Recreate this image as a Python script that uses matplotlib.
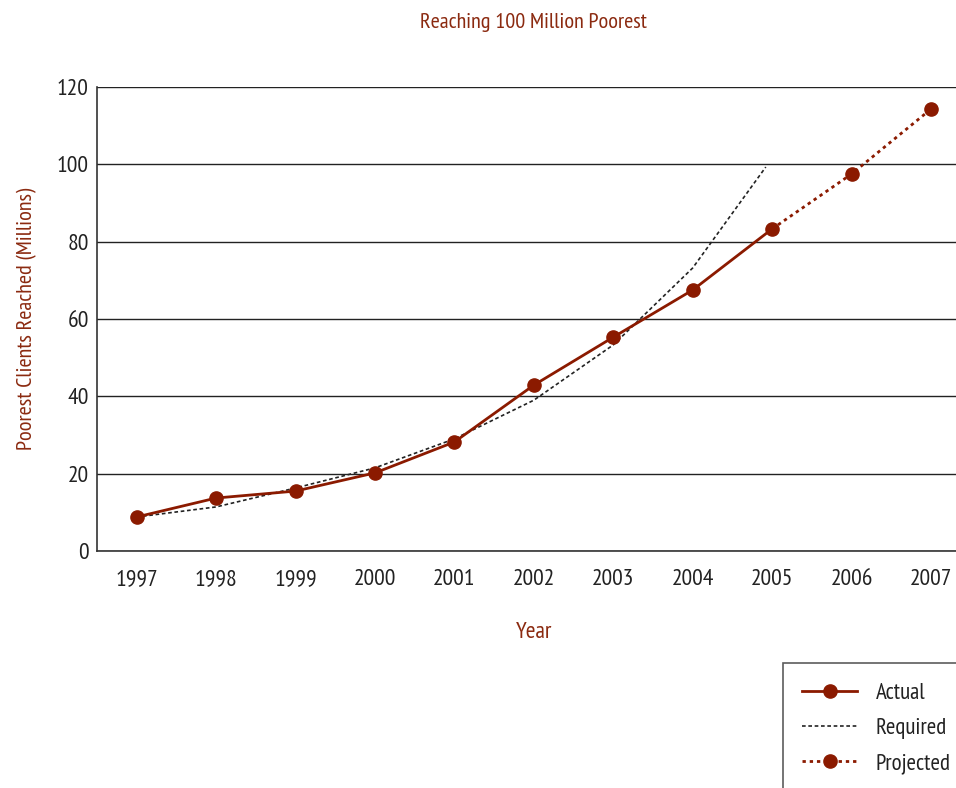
import matplotlib
matplotlib.use("Agg")
import matplotlib.pyplot as plt

plt.rcParams['font.family'] = ['PT Sans Narrow', 'DejaVu Sans']

years = [1997, 1998, 1999, 2000, 2001, 2002, 2003, 2004, 2005]
actual = [8.8, 13.7, 15.5, 20.2, 28.2, 42.9, 55.3, 67.5, 83.3]
req_years = [1997, 1998, 1999, 2000, 2001, 2002, 2003, 2004, 2004.92]
required = [8.8, 11.4, 16.3, 21.5, 29.0, 39.0, 53.3, 73.2, 99.3]
proj_years = [2005, 2006, 2007]
projected = [83.3, 97.5, 114.3]
xticks = list(range(1997, 2008))
yticks = [0, 20, 40, 60, 80, 100, 120]

RED = '#8B1A00'
TXT = '#8B2A10'
W, H = 956, 788
fig = plt.figure(figsize=(W/100, H/100), dpi=100)
ax = fig.add_axes([97/W, 1-551/H, (970.7-97)/W, (551-87)/H])

ax.set_xlim(1996.5, 2007.5)
ax.set_ylim(0, 120)
ax.set_yticks(yticks)
ax.set_xticks(xticks)
ax.tick_params(length=0, labelsize=17, colors='#222222')
ax.tick_params(axis='y', pad=6)
ax.tick_params(axis='x', pad=13)
ax.grid(axis='y', color='#222222', linewidth=1.0)
ax.set_axisbelow(True)
for s in ['top', 'right']:
    ax.spines[s].set_visible(False)
for s in ['left', 'bottom']:
    ax.spines[s].set_color('#333333')
    ax.spines[s].set_linewidth(1.2)

l1, = ax.plot(years, actual, color=RED, lw=2.0, marker='o', ms=9.5, label='Actual', zorder=4)
l2, = ax.plot(req_years, required, color='#222222', lw=1.2, ls=(0, (2.2, 1.6)), label='Required', zorder=3)
l3, = ax.plot(proj_years, projected, color=RED, lw=2.0, ls=(0, (1.2, 1.4)),
              marker='o', ms=9.5, markevery=[1, 2], label='Projected', zorder=4)

fig.text(533/W, 1-22/H, 'Reaching 100 Million Poorest', color=TXT, fontsize=16,
         ha='center', va='center')
ax.set_xlabel('Year', color=TXT, fontsize=17, labelpad=23)
ax.set_ylabel('Poorest Clients Reached (Millions)', color=TXT, fontsize=16, labelpad=14)

leg = fig.legend(handles=[l1, l2, l3], loc='upper left',
                 bbox_to_anchor=(783/W, 1-663/H), frameon=True, fancybox=False,
                 fontsize=16.5, handlelength=2.4, handletextpad=0.8, labelspacing=0.62,
                 borderpad=0.85, borderaxespad=0)
leg.get_frame().set_edgecolor('#333333')
leg.get_frame().set_linewidth(1.2)
for t in leg.get_texts():
    t.set_color('#222222')

fig.savefig('out.png', dpi=100)
